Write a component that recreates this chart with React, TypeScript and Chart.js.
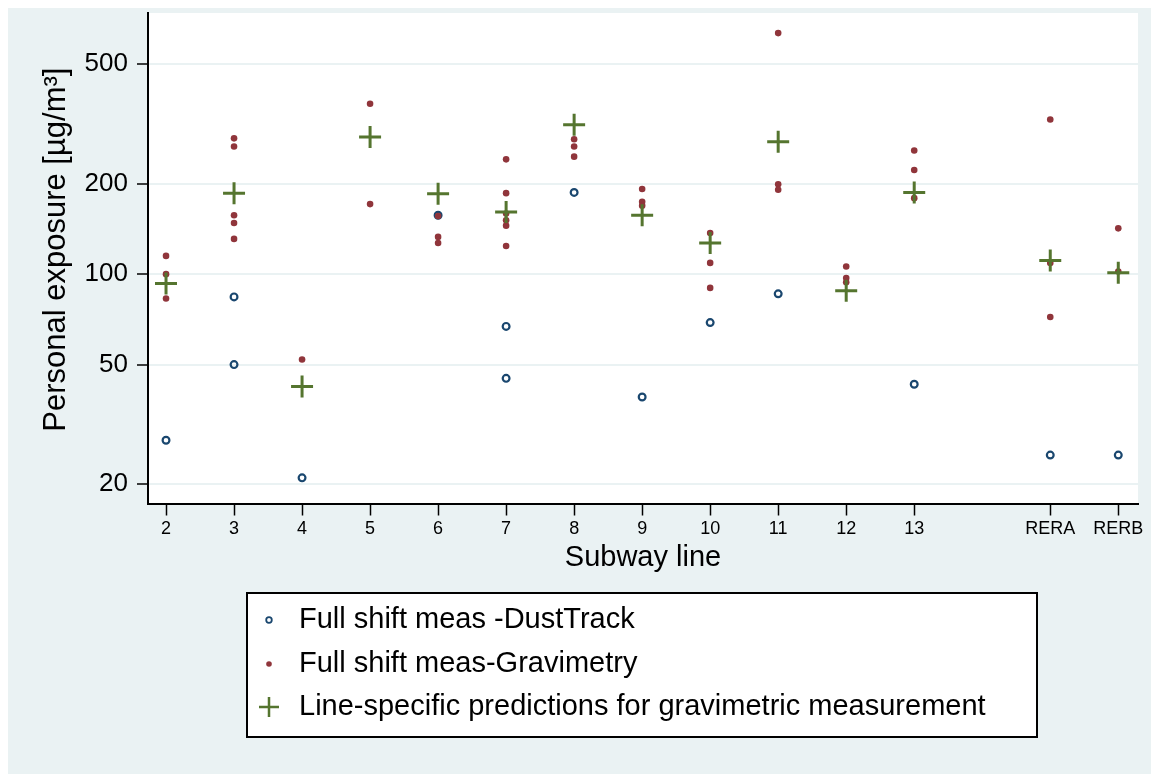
import React, { useEffect, useRef } from 'react';
import { Chart, registerables } from 'chart.js';

Chart.register(...registerables);

// ---- data ----
const lineLabels = ['2', '3', '4', '5', '6', '7', '8', '9', '10', '11', '12', '13', 'RERA', 'RERB'];
const linePositions = [2, 3, 4, 5, 6, 7, 8, 9, 10, 11, 12, 13, 15, 16];

const dustTrack: number[][] = [
  [28], [84, 50], [21], [], [157], [67, 45], [187], [39], [69], [86], [], [43], [25], [25],
];

const gravimetry: number[][] = [
  [115, 100, 83],
  [283, 266, 157, 148, 131],
  [52],
  [369, 171],
  [156, 133, 127],
  [241, 186, 159, 151, 145, 124],
  [281, 266, 246],
  [192, 174, 169],
  [137, 109, 90],
  [634, 199, 191],
  [106, 97, 94],
  [258, 222, 179],
  [327, 109, 72],
  [142, 102],
];

const predictions: number[] = [93, 186, 42.3, 286, 185, 161, 314, 157, 127, 276, 88, 187, 111, 101];

const yTickValues = [20, 50, 100, 200, 500];

const seriesNames = [
  'Full shift meas -DustTrack',
  'Full shift meas-Gravimetry',
  'Line-specific predictions for gravimetric measurement',
];

const FONT = "'Liberation Sans', Arial, Helvetica, sans-serif";
const BG = '#EAF2F3';
const NAVY = '#1A476F';
const MAROON = '#90353B';
const GREEN = '#55752F';

function groupsToPoints(groups: number[][]) {
  const pts: { x: number; y: number }[] = [];
  groups.forEach((vals, i) => vals.forEach((v) => pts.push({ x: linePositions[i], y: v })));
  return pts;
}

const bgPlugin = {
  id: 'stataBackground',
  beforeDraw(chart: any) {
    const { ctx, chartArea, width, height } = chart;
    ctx.save();
    ctx.fillStyle = BG;
    ctx.fillRect(0, 0, width, height);
    ctx.fillStyle = '#ffffff';
    ctx.fillRect(chartArea.left, chartArea.top, chartArea.right - chartArea.left, chartArea.bottom - chartArea.top);
    ctx.restore();
  },
};

const boxLegendPlugin = {
  id: 'boxLegend',
  afterDraw(chart: any) {
    const ctx = chart.ctx as CanvasRenderingContext2D;
    const box = { left: 239, top: 585, right: 1029, bottom: 729 };
    const rows = [612, 656, 699];
    const markerX = 261;
    const textX = 291;
    ctx.save();
    ctx.fillStyle = '#ffffff';
    ctx.fillRect(box.left, box.top, box.right - box.left, box.bottom - box.top);
    ctx.strokeStyle = '#000000';
    ctx.lineWidth = 2;
    ctx.strokeRect(box.left, box.top, box.right - box.left, box.bottom - box.top);

    chart.data.datasets.forEach((ds: any, i: number) => {
      const y = rows[i];
      ctx.save();
      if (ds.pointStyle === 'cross') {
        ctx.strokeStyle = ds.borderColor;
        ctx.lineWidth = 2.5;
        ctx.beginPath();
        ctx.moveTo(markerX - 10, y);
        ctx.lineTo(markerX + 10, y);
        ctx.moveTo(markerX, y - 10);
        ctx.lineTo(markerX, y + 10);
        ctx.stroke();
      } else if (ds.hollow) {
        ctx.strokeStyle = ds.borderColor;
        ctx.lineWidth = 1.8;
        ctx.beginPath();
        ctx.arc(markerX, y, 2.8, 0, Math.PI * 2);
        ctx.stroke();
      } else {
        ctx.fillStyle = ds.backgroundColor;
        ctx.beginPath();
        ctx.arc(markerX, y, 2.8, 0, Math.PI * 2);
        ctx.fill();
      }
      ctx.restore();
      ctx.fillStyle = '#000000';
      ctx.font = `29px ${FONT}`;
      ctx.textBaseline = 'middle';
      ctx.textAlign = 'left';
      ctx.fillText(ds.label, textX, y);
    });
    ctx.restore();
  },
};

export default function App() {
  const canvasRef = useRef<HTMLCanvasElement | null>(null);

  useEffect(() => {
    if (!canvasRef.current) return;
    const labelFor = (v: number) => {
      const idx = linePositions.indexOf(v);
      return idx >= 0 ? lineLabels[idx] : '';
    };

    const chart = new Chart(canvasRef.current, {
      type: 'scatter',
      data: {
        datasets: [
          {
            label: seriesNames[0],
            data: groupsToPoints(dustTrack),
            pointStyle: 'circle',
            pointRadius: 3.4,
            pointHoverRadius: 3.4,
            borderWidth: 2.2,
            borderColor: NAVY,
            backgroundColor: 'rgba(0,0,0,0)',
            hollow: true,
            order: 3,
          } as any,
          {
            label: seriesNames[1],
            data: groupsToPoints(gravimetry),
            pointStyle: 'circle',
            pointRadius: 3.3,
            pointHoverRadius: 3.3,
            borderWidth: 0,
            borderColor: MAROON,
            backgroundColor: MAROON,
            order: 2,
          },
          {
            label: seriesNames[2],
            data: predictions.map((v, i) => ({ x: linePositions[i], y: v })),
            pointStyle: 'cross',
            pointRadius: 11,
            pointHoverRadius: 11,
            borderWidth: 3,
            borderColor: GREEN,
            backgroundColor: GREEN,
            order: 1,
          },
        ],
      },
      options: {
        animation: false,
        responsive: false,
        devicePixelRatio: 1,
        events: [],
        layout: { autoPadding: false, padding: { left: 0, top: 5, right: 21, bottom: 198.5 } },
        plugins: {
          legend: { display: false },
          tooltip: { enabled: false },
        },
        scales: {
          x: {
            type: 'linear',
            min: 1.735,
            max: 16.29,
            afterBuildTicks: (scale: any) => {
              scale.ticks = linePositions.map((v) => ({ value: v }));
            },
            afterFit: (scale: any) => {
              scale.height = 72;
              scale.paddingLeft = 0;
              scale.paddingRight = 0;
            },
            ticks: {
              autoSkip: false,
              maxRotation: 0,
              minRotation: 0,
              padding: 3,
              color: '#000',
              font: { family: FONT, size: 18 },
              callback: (v: any) => labelFor(Number(v)),
            },
            grid: {
              drawOnChartArea: false,
              drawTicks: true,
              tickLength: 12,
              tickColor: '#000',
              tickWidth: 1.5,
            },
            border: { display: true, color: '#000', width: 2 },
            title: {
              display: true,
              text: 'Subway line',
              color: '#000',
              font: { family: FONT, size: 29 },
              padding: { top: 0, bottom: 0 },
            },
          },
          y: {
            type: 'logarithmic',
            min: 17.25,
            max: 739.5,
            afterBuildTicks: (scale: any) => {
              scale.ticks = yTickValues.map((v) => ({ value: v }));
            },
            afterFit: (scale: any) => {
              scale.width = 140;
              scale.paddingTop = 0;
              scale.paddingBottom = 0;
            },
            ticks: {
              padding: 9,
              color: '#000',
              font: { family: FONT, size: 26 },
              callback: (v: any) => String(v),
            },
            grid: {
              color: BG,
              lineWidth: 2,
              drawTicks: true,
              tickLength: 11,
              tickColor: '#000',
              tickWidth: 1.5,
            },
            border: { display: true, color: '#000', width: 2 },
            title: {
              display: true,
              text: '\u00A0\u00A0Personal exposure [µg/m³]',
              color: '#000',
              font: { family: FONT, size: 31 },
              padding: { top: 30, bottom: 0 },
            },
          },
        },
      },
      plugins: [bgPlugin, boxLegendPlugin],
    } as any);

    return () => chart.destroy();
  }, []);

  return (
    <div style={{ width: 1151, height: 766 }}>
      <canvas ref={canvasRef} width={1151} height={766} style={{ display: 'block', width: 1151, height: 766 }} />
    </div>
  );
}
